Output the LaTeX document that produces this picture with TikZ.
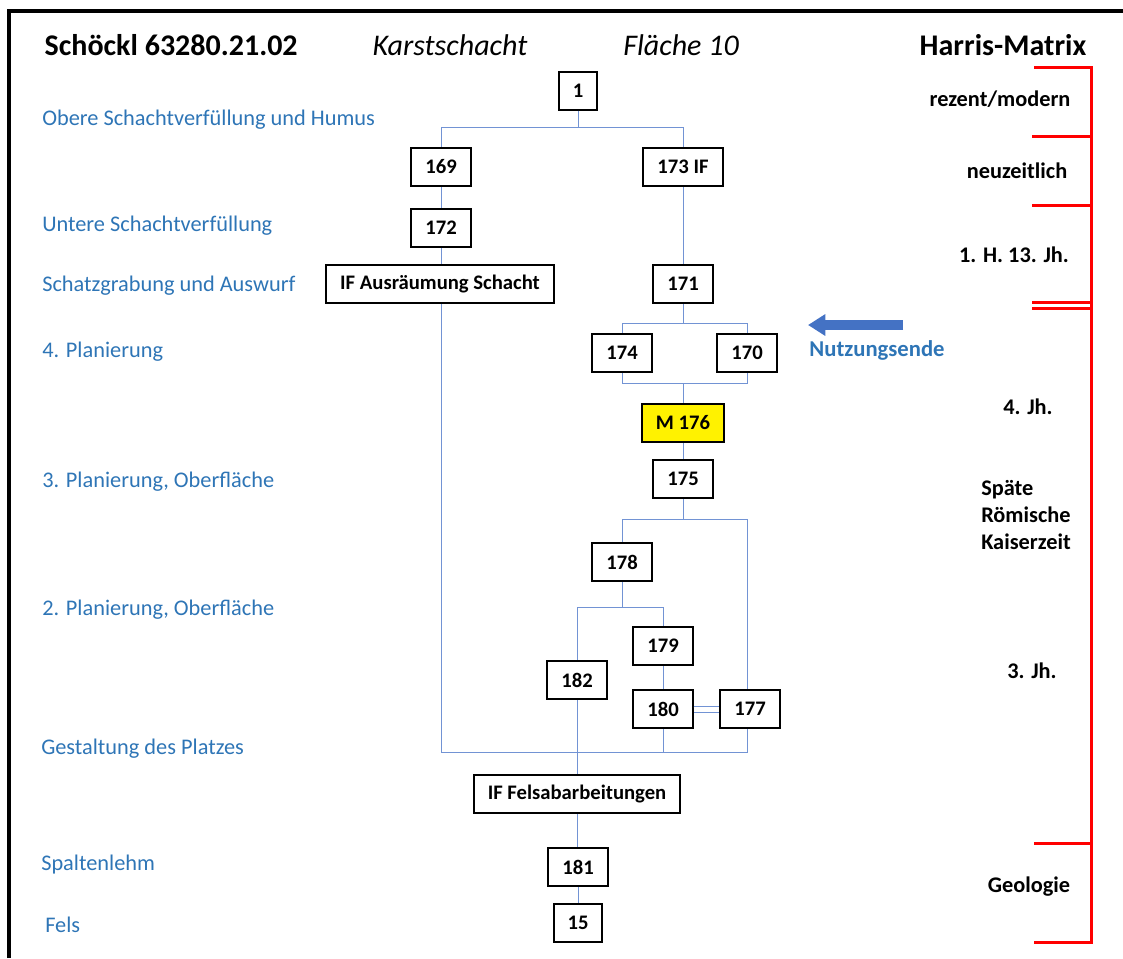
\documentclass[tikz,border=0pt]{standalone}
\usepackage{fontspec}
\setmainfont{Carlito}
\usetikzlibrary{arrows.meta}

\definecolor{linkblue}{RGB}{114,147,212}
\definecolor{labelblue}{RGB}{46,117,182}
\definecolor{arrowblue}{RGB}{68,114,196}

\begin{document}
\begin{tikzpicture}[
    x=0.75pt, y=-0.75pt,
    unit/.style={rectangle, draw, line width=1.5pt, inner xsep=10.5pt, inner ysep=0pt, minimum height=29pt, font=\fontsize{15.5}{18}\selectfont\bfseries},
    link/.style={draw=linkblue, line width=0.75pt},
    phase/.style={anchor=west, inner xsep=0pt, text=labelblue, font=\fontsize{16.75}{20}\selectfont},
    period/.style={align=left, font=\fontsize{16.75}{20.25}\selectfont\bfseries},
    era/.style={draw=red, line width=2.25pt},
    heading/.style={font=\fontsize{22.5}{27}\selectfont}
]
\useasboundingbox (0,0) rectangle (1123,958);

% Rahmen
\draw[line width=3pt] (9,958) -- (9,11) -- (1123,11);

% Kopfzeile
\node[heading, anchor=west] (site) at (40,45) {\bfseries Schöckl 63280.21.02};
\node[heading] (context) at (450,45) {\itshape Karstschacht};
\node[heading] (area) at (681,45) {\itshape Fläche 10};
\node[heading] (harris) at (1003,45) {\bfseries Harris-Matrix};

% Phasen links
\node[phase] (obere) at (42,120) {Obere Schachtverfüllung und Humus};
\node[phase] (untere) at (42,226) {Untere Schachtverfüllung};
\node[phase] (schatz) at (42,286) {Schatzgrabung und Auswurf};
\node[phase] (plan4) at (42,352) {4. Planierung};
\node[phase] (plan3) at (42,482) {3. Planierung, Oberfläche};
\node[phase] (plan2) at (42,610) {2. Planierung, Oberfläche};
\node[phase] (platz) at (41,749) {Gestaltung des Platzes};
\node[phase] (lehm) at (41,865) {Spaltenlehm};
\node[phase] (fels) at (45,925) {Fels};

% Einheiten
\node[unit, minimum width=28pt, minimum height=28pt, inner xsep=0pt] (u1) at (578,91) {1};
\node[unit] (u169) at (441,167) {169};
\node[unit] (u173) at (683,167) {173 IF};
\node[unit] (u172) at (441,228) {172};
\node[unit] (uaus) at (440,284) {IF Ausräumung Schacht};
\node[unit] (u171) at (683,284) {171};
\node[unit] (u174) at (622,353) {174};
\node[unit] (u170) at (747,353) {170};
\node[unit, fill=yellow] (u176) at (683,423) {M 176};
\node[unit] (u175) at (683,479) {175};
\node[unit] (u178) at (622,562) {178};
\node[unit] (u179) at (663,646) {179};
\node[unit] (u182) at (577,680) {182};
\node[unit] (u180) at (663,709) {180};
\node[unit] (u177) at (750,709) {177};
\node[unit] (ufels) at (577,794) {IF Felsabarbeitungen};
\node[unit] (u181) at (578,867) {181};
\node[unit] (u15) at (578,923) {15};

% Verbindungen
\coordinate (bus1) at (0,127);
\coordinate (bus2) at (0,323);
\coordinate (bus3) at (0,383);
\coordinate (bus4) at (0,519);
\coordinate (bus5) at (0,607);
\coordinate (bus6) at (0,752);
\draw[link] (u1.south) -- (u1.south |- bus1);
\draw[link] (u169.north) -- (u169.north |- bus1) -- (u173.north |- bus1) -- (u173.north);
\draw[link] (u169) -- (u172);
\draw[link] (u172.south) -- (u172.south |- uaus.north);
\draw[link] (u173) -- (u171);
\draw[link] (u171.south) -- (u171.south |- bus2);
\draw[link] (u174.north) -- (u174.north |- bus2) -- (u170.north |- bus2) -- (u170.north);
\draw[link] (u174.south) -- (u174.south |- bus3) -- (u170.south |- bus3) -- (u170.south);
\draw[link] (u176.north |- bus3) -- (u176.north);
\draw[link] (u176) -- (u175);
\draw[link] (u175.south) -- (u175.south |- bus4);
\draw[link] (u178.north) -- (u178.north |- bus4) -- (u170.south |- bus4) -- (u170.south |- u177.north);
\draw[link] (u178.south) -- (u178.south |- bus5);
\draw[link] (u182.north) -- (u182.north |- bus5) -- (u179.north |- bus5) -- (u179.north);
\draw[link] (u179) -- (u180);
\draw[link, double, double distance=3.75pt] (u180) -- (u177);
\draw[link] (u172.south |- uaus.south) -- (u172.south |- bus6) -- (u170.south |- bus6) -- (u170.south |- u177.south);
\draw[link] (u180.south) -- (u180.south |- bus6);
\draw[link] (u182) -- (ufels);
\draw[link] (ufels.south) -- (ufels.south |- u181.north);
\draw[link] (u181) -- (u15);

% Nutzungsende
\coordinate (tail) at (903,325);
\coordinate (tip) at (808,325);
\draw[arrowblue, line width=7pt, -{Triangle[length=13pt, width=15.5pt]}] (tail) -- (tip);
\node[text=labelblue, font=\fontsize{17}{20}\selectfont\bfseries] (nutzung) at (877,350) {Nutzungsende};

% Datierung rechts
\draw[era] (1034,67) -- (1091,67) -- (1091,942) -- (1034,942);
\draw[era] (1032,136) -- (1091,136);
\draw[era] (1032,205) -- (1091,205);
\draw[era] (1032,302) -- (1091,302);
\draw[era] (1032,308) -- (1091,308);
\draw[era] (1034,843) -- (1091,843);
\node[period] (rezent) at (1000,99) {rezent/modern};
\node[period] (neuzeit) at (1017,171) {neuzeitlich};
\node[period] (hoch) at (1014,255) {1. H. 13. Jh.};
\node[period] (jh4) at (1028,407) {4. Jh.};
\node[period] (kaiser) at (1026,515) {Späte\\Römische\\Kaiserzeit};
\node[period] (jh3) at (1032,671) {3. Jh.};
\node[period] (geo) at (1029,887) {Geologie};

\end{tikzpicture}
\end{document}
